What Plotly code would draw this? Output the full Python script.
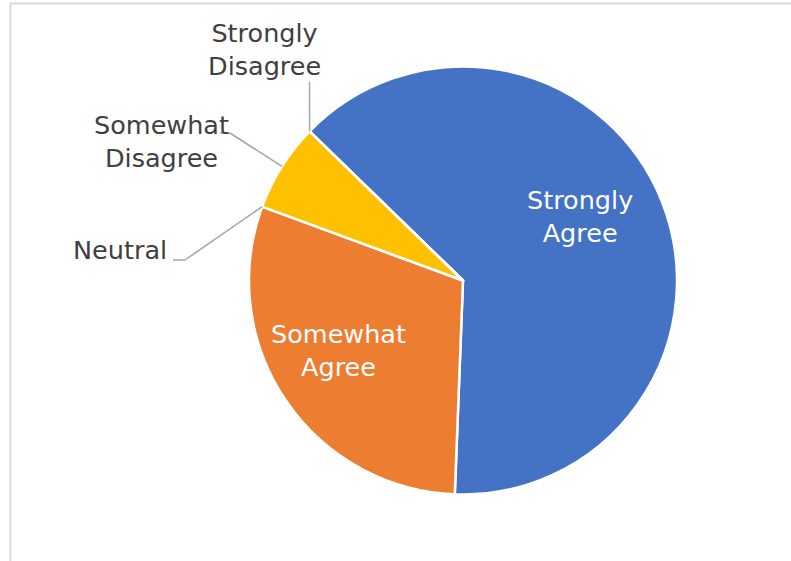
import math
import plotly.graph_objects as go

# ---- data ----
labels = ["Strongly Agree", "Somewhat Agree", "Neutral", "Somewhat Disagree", "Strongly Disagree"]
values = [19, 9, 0, 2, 0]
colors = ["#4472C4", "#ED7D31", "#A5A5A5", "#FFC000", "#5B9BD5"]

# ---- layout constants (pixels) ----
W, H = 791, 561
CX, CY, R = 463, 280.5, 214
ROT = -45.8
FONT = "DejaVu Sans"
FS = 25.5
DARK = "#404040"

def px(x):
    return x / W

def py(y):
    return 1 - y / H

fig = go.Figure(go.Pie(
    labels=labels,
    values=values,
    sort=False,
    direction="clockwise",
    rotation=ROT,
    marker=dict(colors=colors, line=dict(color="white", width=2.5)),
    textinfo="none",
    hoverinfo="label+value",
    showlegend=False,
    domain=dict(x=[px(CX - R), px(CX + R)], y=[py(CY + R), py(CY - R)]),
))

total = sum(values)

def edge_point(angle_deg):
    a = math.radians(angle_deg)
    return CX + R * math.sin(a), CY - R * math.cos(a)

# boundary / mid angles from the data
cum = [0]
for v in values:
    cum.append(cum[-1] + v)
start_ang = [ROT + c / total * 360 for c in cum[:-1]]
end_ang = [ROT + c / total * 360 for c in cum[1:]]
mid_ang = [(s + e) / 2 for s, e in zip(start_ang, end_ang)]

# label placement: (text x, text y, color, leader elbow points or None)
placements = {
    "Strongly Agree": (580, 217, "white", None),
    "Somewhat Agree": (338, 350, "white", None),
    "Neutral": (120, 250, DARK, [(173, 260), (185, 260)]),
    "Somewhat Disagree": (161, 141, DARK, [(220, 133), (230, 133)]),
    "Strongly Disagree": (264, 50, DARK, [(309.5, 82)]),
}

shapes = []
annotations = []
for i, lab in enumerate(labels):
    tx, ty, col, elbow = placements[lab]
    text = lab if lab == "Neutral" else lab.replace(" ", "<br>")
    annotations.append(dict(
        x=px(tx), y=py(ty), xref="paper", yref="paper", text=text,
        showarrow=False, xanchor="center", yanchor="middle", align="center",
        font=dict(family=FONT, size=FS, color=col),
    ))
    if elbow:
        ex, ey = edge_point(mid_ang[i])
        pts = elbow + [(ex, ey)]
        for (x0, y0), (x1, y1) in zip(pts[:-1], pts[1:]):
            shapes.append(dict(type="line", xref="paper", yref="paper",
                               x0=px(x0), y0=py(y0), x1=px(x1), y1=py(y1),
                               line=dict(color="#A6A6A6", width=1.5)))

# chart-area frame
shapes.append(dict(type="line", xref="paper", yref="paper", x0=px(10), y0=py(3.5), x1=1.01, y1=py(3.5),
                   line=dict(color="#D9D9D9", width=2)))
shapes.append(dict(type="line", xref="paper", yref="paper", x0=px(10.5), y0=py(3.5), x1=px(10.5), y1=-0.01,
                   line=dict(color="#D9D9D9", width=2)))

fig.update_layout(
    width=W, height=H,
    margin=dict(l=0, r=0, t=0, b=0),
    paper_bgcolor="white",
    plot_bgcolor="white",
    shapes=shapes,
    annotations=annotations,
    font=dict(family=FONT),
)

fig.write_html("out.html")
